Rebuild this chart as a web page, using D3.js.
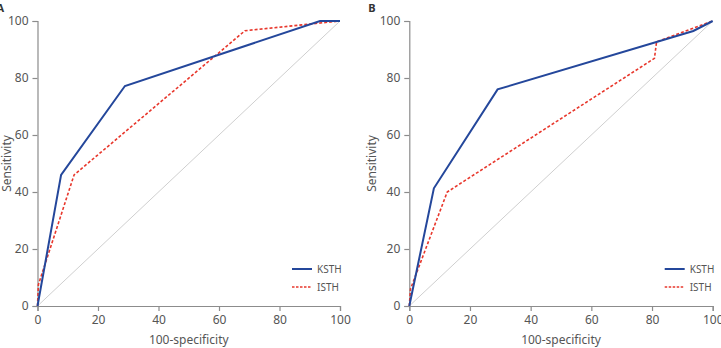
<!DOCTYPE html>
<html lang="en">
<head>
    <meta charset="UTF-8">
    <title>ROC curves KSTH vs ISTH</title>
    <script src="https://d3js.org/d3.v7.min.js"></script>
    <style>
        body { margin: 0; background: #fff; }
        text { font-family: "Noto Sans", sans-serif; }
    </style>
</head>
<body>
    <script>
        // ROC points as [100-specificity, sensitivity]
        const ksthA = [[0, 0], [7.8, 46], [28.9, 77.2], [93.4, 100], [100, 100]];
        const isthA = [[0, 0], [0.3, 7.5], [12.1, 46], [68.6, 96.6], [100, 100]];
        const ksthB = [[0, 0], [8.1, 41.3], [29.1, 76], [93.6, 96.5], [100, 100]];
        const isthB = [[0, 0], [0.4, 6], [12.5, 40], [80.8, 86.9], [81.5, 92.7], [100, 100]];
        const ticks = [0, 20, 40, 60, 80, 100];
        const seriesNames = ["KSTH", "ISTH"];

        const width = 721, height = 348;

        const svg = d3.select("body").append("svg")
            .attr("width", width)
            .attr("height", height);

        function drawPanel(left, right, tag, ksth, isth, yTitleOffset) {
            const g = svg.append("g");
            const x = d3.scaleLinear().domain([0, 100]).range([left, right]);
            const y = d3.scaleLinear().domain([0, 100]).range([306, 21]);

            // reference diagonal
            g.append("line")
                .attr("x1", x(0)).attr("y1", y(0))
                .attr("x2", x(100)).attr("y2", y(100))
                .attr("stroke", "#cfcfcf")
                .attr("stroke-width", 1);

            const xAxis = g.append("g")
                .attr("transform", `translate(0,${y(0)})`)
                .call(d3.axisBottom(x).tickValues(ticks).tickSize(5).tickPadding(4));
            const yAxis = g.append("g")
                .attr("transform", `translate(${x(0)},0)`)
                .call(d3.axisLeft(y).tickValues(ticks).tickSize(5).tickPadding(4));

            for (const ax of [xAxis, yAxis]) {
                ax.selectAll("path, line").attr("stroke", "#8c8c8c").attr("stroke-width", 1.2);
                ax.selectAll("text")
                    .attr("fill", "#555")
                    .style("font-size", "12px")
                    .style("font-family", "'Noto Sans', sans-serif");
            }

            const line = d3.line().x(d => x(d[0])).y(d => y(d[1]));

            g.append("path")
                .datum(isth)
                .attr("d", line)
                .attr("fill", "none")
                .attr("stroke", "#e8372c")
                .attr("stroke-width", 1.6)
                .attr("stroke-dasharray", "3,2");

            g.append("path")
                .datum(ksth)
                .attr("d", line)
                .attr("fill", "none")
                .attr("stroke", "#24479b")
                .attr("stroke-width", 2);

            // axis titles
            g.append("text")
                .attr("x", (x(0) + x(100)) / 2)
                .attr("y", 344)
                .attr("text-anchor", "middle")
                .attr("fill", "#555")
                .style("font-size", "12px")
                .text("100-specificity");

            g.append("text")
                .attr("transform", `translate(${x(0) - yTitleOffset},${y(50)}) rotate(-90)`)
                .attr("text-anchor", "middle")
                .attr("fill", "#555")
                .style("font-size", "12px")
                .text("Sensitivity");

            // panel tag
            g.append("text")
                .attr("x", x(0) - 41)
                .attr("y", 12)
                .attr("font-weight", "bold")
                .attr("fill", "#333")
                .style("font-size", "11px")
                .text(tag);

            // legend
            const lx = x(100) - 48;
            seriesNames.forEach((name, i) => {
                const ly = 269 + i * 18;
                g.append("line")
                    .attr("x1", lx).attr("x2", lx + 20)
                    .attr("y1", ly).attr("y2", ly)
                    .attr("stroke", i === 0 ? "#24479b" : "#e8372c")
                    .attr("stroke-width", i === 0 ? 2 : 1.4)
                    .attr("stroke-dasharray", i === 0 ? null : "2.5,1.5");
                g.append("text")
                    .attr("x", lx + 25)
                    .attr("y", ly + 3.5)
                    .attr("fill", "#555")
                    .style("font-size", "10px")
                    .text(name);
            });
        }

        drawPanel(37.5, 340, "A", ksthA, isthA, 27);
        drawPanel(409.3, 712.7, "B", ksthB, isthB, 33);
    </script>
</body>
</html>
